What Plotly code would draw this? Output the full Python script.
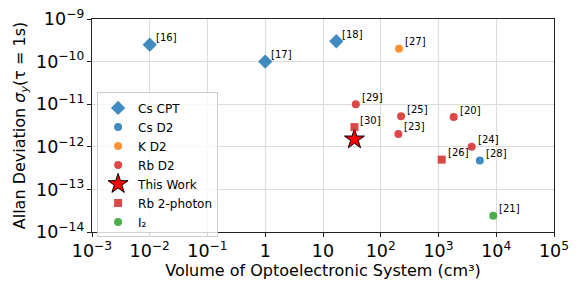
import math
import plotly.graph_objects as go

# data
groups = ["Cs CPT", "Cs D2", "K D2", "Rb D2", "This Work", "Rb 2-photon", "I₂"]
cs_cpt_x = [0.01, 1.0, 17]
cs_cpt_y = [2.5e-10, 1e-10, 3e-10]
cs_cpt_ref = ["[16]", "[17]", "[18]"]
cs_d2_x = [5200]
cs_d2_y = [4.8e-13]
cs_d2_ref = ["[28]"]
k_d2_x = [207]
k_d2_y = [2e-10]
k_d2_ref = ["[27]"]
rb_d2_x = [37, 225, 1830, 202, 3750]
rb_d2_y = [1e-11, 5.2e-12, 5e-12, 2e-12, 1e-12]
rb_d2_ref = ["[29]", "[25]", "[20]", "[23]", "[24]"]
this_x = [35]
this_y = [1.5e-12]
rb2p_x = [35, 1135]
rb2p_y = [2.9e-12, 5e-13]
rb2p_ref = ["[30]", "[26]"]
i2_x = [8870]
i2_y = [2.4e-14]
i2_ref = ["[21]"]

fig = go.Figure()

def add(name, xs, ys, symbol, color, size, line=None, opacity=0.85):
    fig.add_trace(go.Scatter(
        x=xs, y=ys, mode="markers", name=name,
        marker=dict(symbol=symbol, color=color, size=size, opacity=opacity,
                    line=line or dict(width=0)),
    ))

add(groups[0], cs_cpt_x, cs_cpt_y, "diamond", "#1f77b4", 11)
add(groups[1], cs_d2_x, cs_d2_y, "circle", "#1f77b4", 8)
add(groups[2], k_d2_x, k_d2_y, "circle", "#ff7f0e", 8)
add(groups[3], rb_d2_x, rb_d2_y, "circle", "#d62728", 8)
add(groups[4], this_x, this_y, "star", "#ff0000", 15, line=dict(color="black", width=1), opacity=1)
add(groups[5], rb2p_x, rb2p_y, "square", "#d62728", 8)
add(groups[6], i2_x, i2_y, "circle", "#2ca02c", 8)

for xs, ys, refs in [(cs_cpt_x, cs_cpt_y, cs_cpt_ref), (cs_d2_x, cs_d2_y, cs_d2_ref),
                     (k_d2_x, k_d2_y, k_d2_ref), (rb_d2_x, rb_d2_y, rb_d2_ref),
                     (rb2p_x, rb2p_y, rb2p_ref), (i2_x, i2_y, i2_ref)]:
    for x, y, r in zip(xs, ys, refs):
        fig.add_annotation(x=math.log10(x), y=math.log10(y), text=r, showarrow=False,
                           xanchor="left", yanchor="middle", xshift=4, yshift=7,
                           font=dict(size=10, color="black"))

axis_common = dict(type="log", dtick=1, exponentformat="power", showline=True,
                   linecolor="#222", linewidth=1, mirror=True, ticks="outside",
                   ticklen=4, tickcolor="#222", showgrid=True, gridcolor="#dcdcdc",
                   gridwidth=1, zeroline=False, automargin=False,
                   tickfont=dict(size=14, color="black"))

fig.update_layout(
    width=581, height=291,
    margin=dict(l=92, r=27, t=19, b=59, autoexpand=False),
    paper_bgcolor="white", plot_bgcolor="white",
    font=dict(family="DejaVu Sans", color="black"),
    xaxis=dict(range=[-3, 5], title=dict(text="Volume of Optoelectronic System (cm³)",
                                          font=dict(size=16), standoff=3), **axis_common),
    yaxis=dict(range=[-14, -9], title=dict(text="Allan Deviation <i>σ<sub>y</sub></i>(τ = 1s)",
                                          font=dict(size=16), standoff=6), **axis_common),
    legend=dict(x=0.011, y=0.315, xanchor="left", yanchor="middle",
                bgcolor="rgba(255,255,255,0.8)", bordercolor="#cccccc", borderwidth=1,
                font=dict(size=12), tracegroupgap=0, itemsizing="trace"),
    showlegend=True,
)

fig.write_html("out.html", config={"displayModeBar": False},
               post_script="document.body.style.margin='0';")
